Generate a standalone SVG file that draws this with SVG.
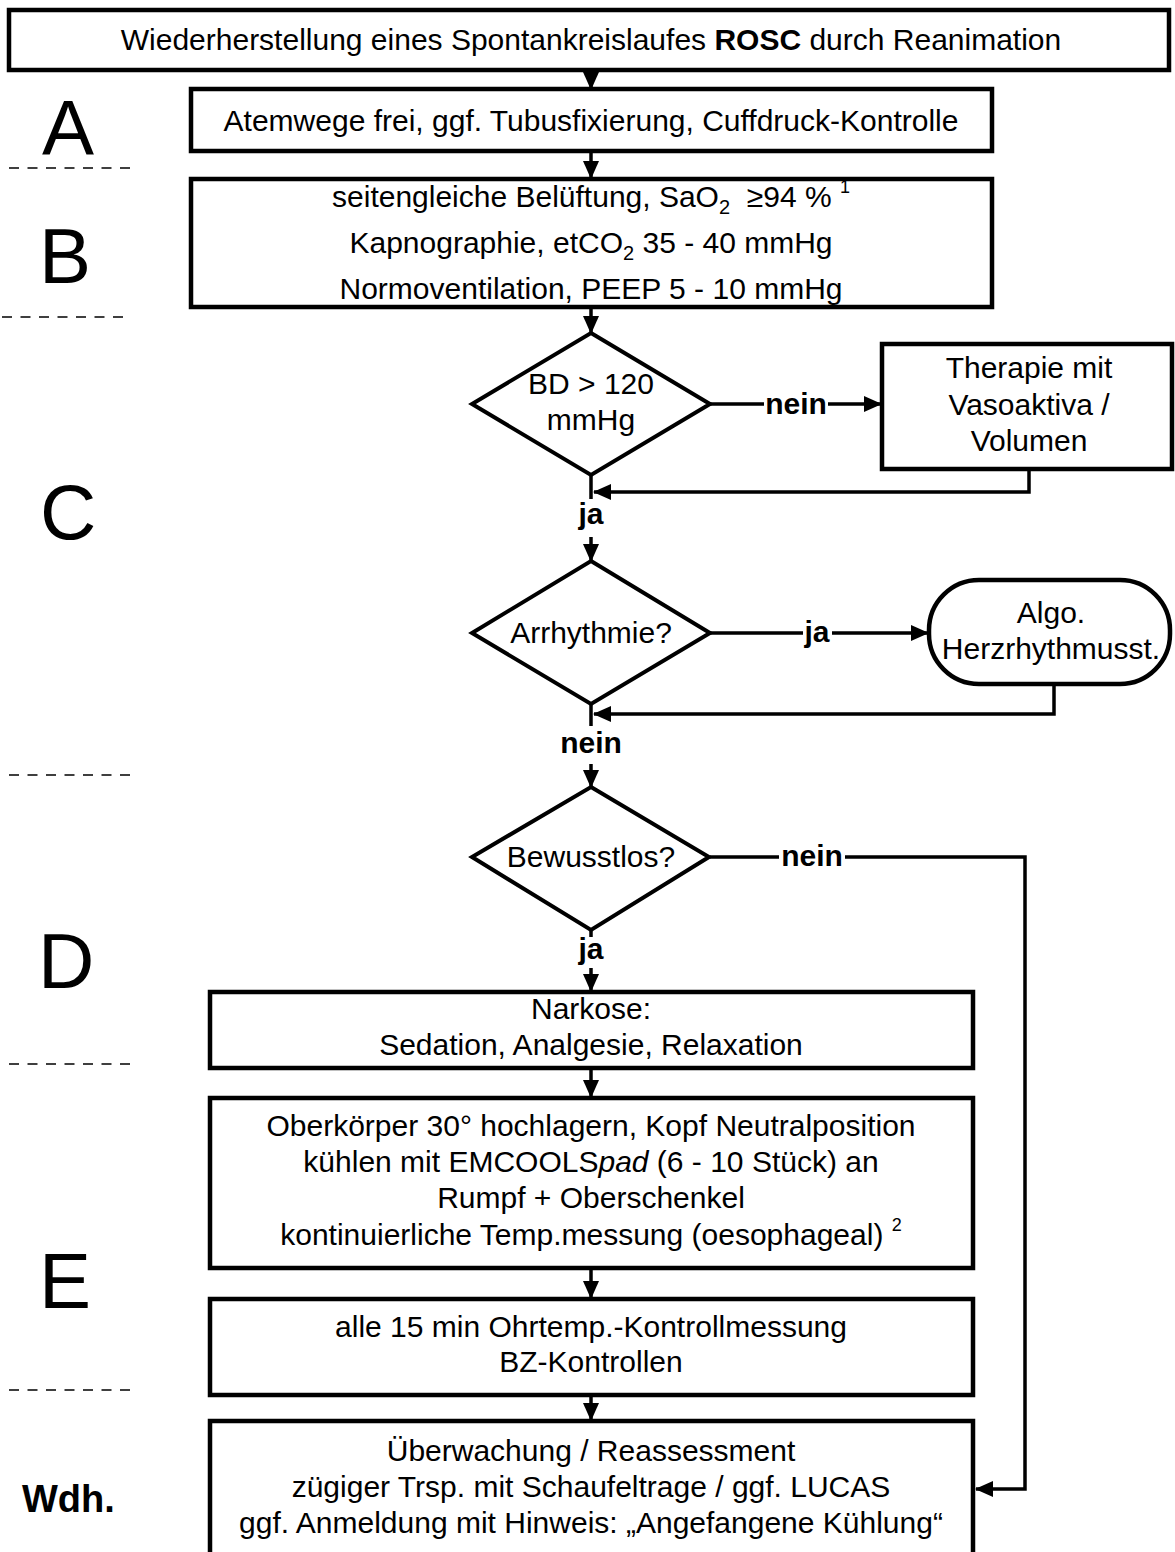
<svg xmlns="http://www.w3.org/2000/svg" width="1175" height="1552" viewBox="0 0 1175 1552">
<defs>
<style>
text{font-family:"Liberation Sans",Arial,sans-serif;fill:#000}
.t{font-size:30px;text-anchor:middle}
.lbl{font-size:30px;font-weight:bold;text-anchor:middle}
.big{font-size:78px}
.box{fill:#fff;stroke:#000;stroke-width:4.5}
.dia{fill:#fff;stroke:#000;stroke-width:4}
.con{fill:none;stroke:#000;stroke-width:3.5;marker-end:url(#ah)}
.dash{stroke:#000;stroke-width:1.5;stroke-dasharray:10 8.5}
.sub{font-size:20px}
.sup{font-size:18px}
</style>
<marker id="ah" viewBox="0 0 18 16" refX="17" refY="8" markerWidth="18" markerHeight="16" markerUnits="userSpaceOnUse" orient="auto">
<path d="M0,0 L18,8 L0,16 Z" fill="#000"/>
</marker>
</defs>
<rect width="1175" height="1552" fill="#fff"/>

<g id="section-labels">
<text class="big" x="42" y="155">A</text>
<text class="big" x="39" y="283">B</text>
<text class="big" x="40" y="539">C</text>
<text class="big" x="38" y="988">D</text>
<text class="big" x="39" y="1308">E</text>
<text x="22" y="1512" style="font-size:38px;font-weight:bold">Wdh.</text>
<line class="dash" x1="9" y1="168" x2="133" y2="168"/>
<line class="dash" x1="2" y1="317" x2="126" y2="317"/>
<line class="dash" x1="9" y1="775" x2="133" y2="775"/>
<line class="dash" x1="9" y1="1064" x2="133" y2="1064"/>
<line class="dash" x1="9" y1="1390" x2="133" y2="1390"/>
</g>

<g id="connectors">
<path class="con" d="M591,72 V89"/>
<path class="con" d="M591,153 V178"/>
<path class="con" d="M591,309 V333"/>
<path class="con" d="M710,404 H764 M828,404 H881"/>
<path class="con" d="M1029,469 V492 H594"/>
<path class="con" d="M591,476 V499 M591,537 V561"/>
<path class="con" d="M710,633 H803 M832,633 H928"/>
<path class="con" d="M1054,684 V714 H594"/>
<path class="con" d="M591,705 V726 M591,764 V787"/>
<path class="con" d="M710,857 H779 M845,857 H1025 V1489 H976"/>
<path class="con" d="M591,930 V937 M591,968 V991"/>
<path class="con" d="M591,1069 V1097"/>
<path class="con" d="M591,1270 V1298"/>
<path class="con" d="M591,1396 V1420"/>
<text class="lbl" x="796" y="414">nein</text>
<text class="lbl" x="591" y="524">ja</text>
<text class="lbl" x="817" y="642">ja</text>
<text class="lbl" x="591" y="753">nein</text>
<text class="lbl" x="812" y="866">nein</text>
<text class="lbl" x="591" y="959">ja</text>
</g>

<g id="rosc">
<rect class="box" x="9" y="10" width="1160" height="60"/>
<text class="t" x="591" y="50">Wiederherstellung eines Spontankreislaufes <tspan font-weight="bold">ROSC</tspan> durch Reanimation</text>
</g>

<g id="airway">
<rect class="box" x="191" y="89" width="801" height="62"/>
<text class="t" x="591" y="131">Atemwege frei, ggf. Tubusfixierung, Cuffdruck-Kontrolle</text>
</g>

<g id="breathing">
<rect class="box" x="191" y="179" width="801" height="128"/>
<text class="t" x="591" y="207">seitengleiche Belüftung, SaO<tspan class="sub" dy="7">2</tspan><tspan dy="-7">&#160;&#160;≥</tspan>94 %&#160;<tspan class="sup" dy="-14">1</tspan></text>
<text class="t" x="591" y="253">Kapnographie, etCO<tspan class="sub" dy="7">2</tspan><tspan dy="-7"> 35 - 40 mmHg</tspan></text>
<text class="t" x="591" y="299">Normoventilation, PEEP 5 - 10 mmHg</text>
</g>

<g id="bp-decision">
<polygon class="dia" points="591,333 710,404 591,475 472,404"/>
<text class="t" x="591" y="394">BD &gt; 120</text>
<text class="t" x="591" y="430">mmHg</text>
</g>

<g id="therapy">
<rect class="box" x="882" y="344" width="290" height="125"/>
<text class="t" x="1029" y="378">Therapie mit</text>
<text class="t" x="1029" y="415">Vasoaktiva /</text>
<text class="t" x="1029" y="451">Volumen</text>
</g>

<g id="arrhythmia-decision">
<polygon class="dia" points="591,561 710,633 591,704 472,633"/>
<text class="t" x="591" y="643">Arrhythmie?</text>
</g>

<g id="algo">
<rect class="box" x="929" y="580" width="241" height="104" rx="50" ry="50"/>
<text class="t" x="1051" y="623">Algo.</text>
<text class="t" x="1051" y="659">Herzrhythmusst.</text>
</g>

<g id="unconscious-decision">
<polygon class="dia" points="591,787 709,857 591,930 472,857"/>
<text class="t" x="591" y="867">Bewusstlos?</text>
</g>

<g id="narkose">
<rect class="box" x="210" y="992" width="763" height="76"/>
<text class="t" x="591" y="1019">Narkose:</text>
<text class="t" x="591" y="1055">Sedation, Analgesie, Relaxation</text>
</g>

<g id="cooling">
<rect class="box" x="210" y="1098" width="763" height="170"/>
<text class="t" x="591" y="1136">Oberkörper 30° hochlagern, Kopf Neutralposition</text>
<text class="t" x="591" y="1172">kühlen mit EMCOOLS<tspan font-style="italic">pad</tspan> (6 - 10 Stück) an</text>
<text class="t" x="591" y="1208">Rumpf + Oberschenkel</text>
<text class="t" x="591" y="1245">kontinuierliche Temp.messung (oesophageal)&#160;<tspan class="sup" dy="-14">2</tspan></text>
</g>

<g id="control">
<rect class="box" x="210" y="1299" width="763" height="96"/>
<text class="t" x="591" y="1337">alle 15 min Ohrtemp.-Kontrollmessung</text>
<text class="t" x="591" y="1372">BZ-Kontrollen</text>
</g>

<g id="monitoring">
<rect class="box" x="210" y="1421" width="763" height="145"/>
<text class="t" x="591" y="1461">Überwachung / Reassessment</text>
<text class="t" x="591" y="1497">zügiger Trsp. mit Schaufeltrage / ggf. LUCAS</text>
<text class="t" x="591" y="1533">ggf. Anmeldung mit Hinweis: „Angefangene Kühlung“</text>
</g>
</svg>
